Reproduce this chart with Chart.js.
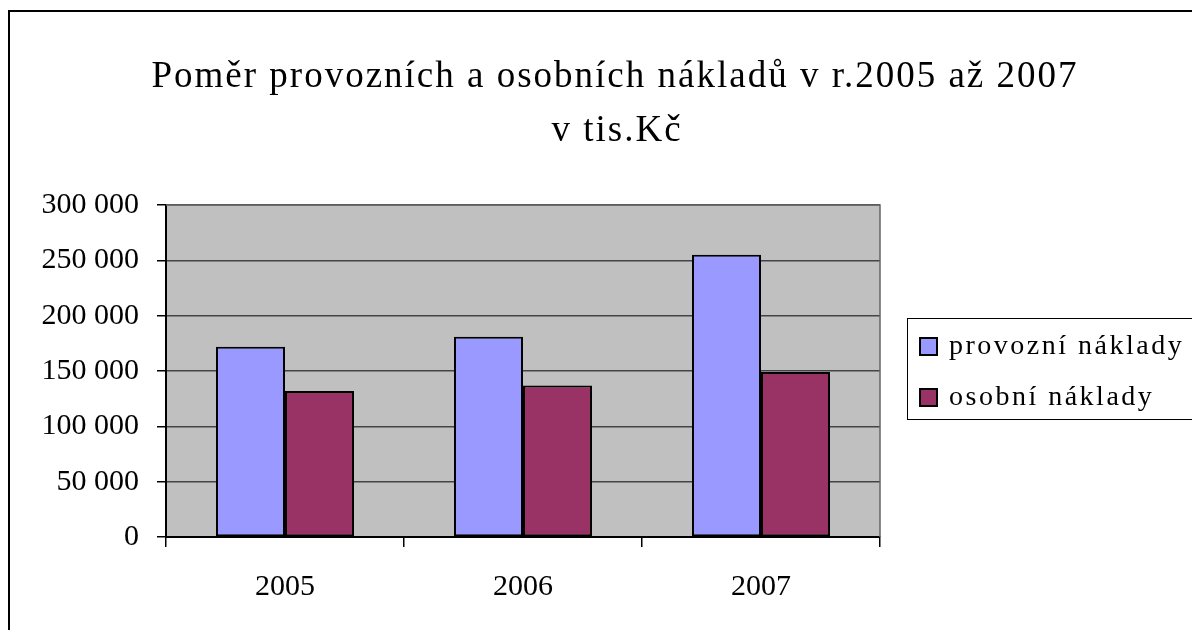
<!DOCTYPE html>
<html>
<head>
<meta charset="utf-8">
<script src="https://cdn.jsdelivr.net/npm/chart.js@4"></script>
<style>
  html, body { margin: 0; padding: 0; background: #fff; }
  canvas { display: block; }
</style>
</head>
<body>
<canvas id="chart" width="1192" height="630"></canvas>
<script>
const titleLines = ['Poměr provozních a osobních nákladů v r.2005 až 2007', 'v tis.Kč'];
const years = ['2005', '2006', '2007'];
const seriesNames = ['provozní náklady', 'osobní náklady'];
const provozni = [172000, 181000, 255000];
const osobni = [132000, 137000, 149000];
const yMax = 300000;
const yStep = 50000;

const serif = '"Liberation Serif", "Times New Roman", serif';

function formatThousands(v) {
    return String(v).replace(/\B(?=(\d{3})+(?!\d))/g, ' ');
}

// grey plot background + outer frame + title + boxed legend
const decor = {
    id: 'decor',
    beforeDraw(chart) {
        const ctx = chart.ctx;
        const a = chart.chartArea;
        ctx.save();
        ctx.fillStyle = '#fff';
        ctx.fillRect(0, 0, chart.width, chart.height);
        ctx.fillStyle = '#c0c0c0';
        ctx.fillRect(a.left, a.top, a.right - a.left, a.bottom - a.top);

        ctx.strokeStyle = '#000';
        ctx.lineWidth = 2;
        ctx.beginPath();
        ctx.moveTo(9, chart.height);
        ctx.lineTo(9, 11);
        ctx.lineTo(chart.width, 11);
        ctx.stroke();

        ctx.fillStyle = '#000';
        ctx.font = '37px ' + serif;
        ctx.letterSpacing = '2px';
        ctx.textAlign = 'center';
        ctx.textBaseline = 'alphabetic';
        ctx.fillText(titleLines[0], 615, 87);
        ctx.fillText(titleLines[1], 617, 141);
        ctx.restore();
    },
    beforeDatasetsDraw(chart) {
        const ctx = chart.ctx;
        const a = chart.chartArea;
        ctx.save();
        ctx.strokeStyle = '#666';
        ctx.lineWidth = 1.5;
        ctx.beginPath();
        ctx.moveTo(a.left, a.top);
        ctx.lineTo(a.right, a.top);
        ctx.lineTo(a.right, a.bottom);
        ctx.stroke();
        ctx.restore();
    },
    afterDraw(chart) {
        const ctx = chart.ctx;
        ctx.save();
        ctx.strokeStyle = '#000';
        ctx.lineWidth = 1;
        ctx.strokeRect(907.5, 318.5, 320, 101);
        ctx.font = '28px ' + serif;
        ctx.letterSpacing = '2.5px';
        ctx.textBaseline = 'middle';
        ctx.textAlign = 'left';
        chart.data.datasets.forEach((ds, i) => {
            const y = 346 + i * 51;
            ctx.fillStyle = ds.backgroundColor;
            ctx.fillRect(920, y - 8, 17, 17);
            ctx.lineWidth = 2;
            ctx.strokeStyle = '#000';
            ctx.strokeRect(920, y - 8, 17, 17);
            ctx.fillStyle = '#000';
            ctx.fillText(ds.label, 949, y + 1);
        });
        ctx.restore();
    }
};

new Chart(document.getElementById('chart'), {
    type: 'bar',
    data: {
        labels: years,
        datasets: [
            {
                label: seriesNames[0],
                data: provozni,
                backgroundColor: '#9999ff',
                borderColor: '#000',
                borderWidth: 2,
                borderSkipped: false
            },
            {
                label: seriesNames[1],
                data: osobni,
                backgroundColor: '#993366',
                borderColor: '#000',
                borderWidth: 2,
                borderSkipped: false
            }
        ]
    },
    options: {
        responsive: false,
        animation: false,
        devicePixelRatio: 1,
        layout: { padding: { top: 205, right: 312, left: 0, bottom: 0 } },
        datasets: { bar: { categoryPercentage: 0.58, barPercentage: 1 } },
        plugins: {
            legend: { display: false },
            title: { display: false },
            tooltip: { enabled: false }
        },
        scales: {
            x: {
                afterFit(scale) { scale.height = 93; },
                grid: {
                    offset: true,
                    drawOnChartArea: false,
                    drawTicks: true,
                    tickLength: 10,
                    tickColor: '#000',
                    lineWidth: 1.5
                },
                border: { color: '#000', width: 2 },
                ticks: {
                    color: '#000',
                    padding: 22,
                    font: { family: serif, size: 30 }
                }
            },
            y: {
                min: 0,
                max: yMax,
                afterFit(scale) { scale.width = 166; },
                grid: {
                    color: '#444',
                    lineWidth: 1.5,
                    tickLength: 9,
                    tickColor: '#000'
                },
                border: { color: '#000', width: 2 },
                ticks: {
                    stepSize: yStep,
                    color: '#000',
                    padding: 18,
                    font: { family: serif, size: 30 },
                    callback: v => formatThousands(v)
                }
            }
        }
    },
    plugins: [decor]
});
</script>
</body>
</html>
